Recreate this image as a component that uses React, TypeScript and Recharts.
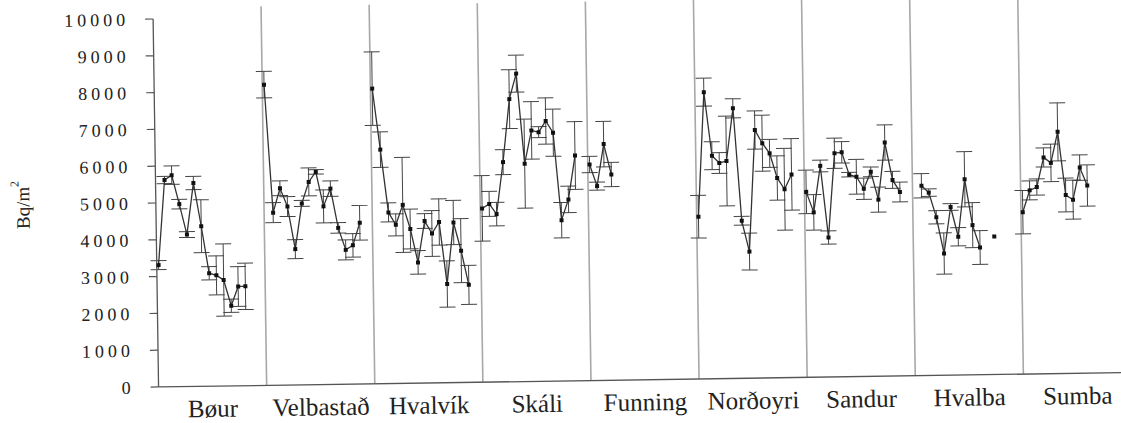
import { ComposedChart, Line, ErrorBar, XAxis, YAxis, ReferenceLine } from 'recharts';

const CATEGORIES = ['Bøur', 'Velbastað', 'Hvalvík', 'Skáli', 'Funning', 'Norðoyri', 'Sandur', 'Hvalba', 'Sumba'];

// Bq/m2 per sampling site
const bour = [3310, 5620, 5750, 4960, 4130, 5530, 4350, 3070, 3010, 2880, 2180, 2700, 2700];
const bourErr = [120, 100, 250, 130, 80, 180, 720, 180, 530, 980, 180, 540, 630];
const velbastad = [8170, 4690, 5350, 4850, 3690, 4930, 5510, 5780, 4840, 5320, 4250, 3650, 3770, 4380];
const velbastadErr = [360, 270, 200, 270, 260, 80, 380, 60, 450, 210, 140, 270, 320, 470];
const hvalvik = [8020, 6360, 4650, 4310, 4850, 4190, 3280, 4400, 4060, 4370, 2680, 4350, 3580, 2650];
const hvalvikErr = [1000, 480, 260, 300, 1290, 540, 320, 200, 620, 630, 630, 600, 870, 530];
const skali = [4720, 4840, 4560, 5970, 7680, 8370, 5920, 6820, 6770, 7070, 6750, 4370, 4930, 6120];
const skaliErr = [890, 340, 320, 340, 800, 500, 1210, 780, 150, 630, 640, 480, 360, 920];
const funning = [5870, 5280, 6420, 5590];
const funningErr = [220, 110, 620, 330];
const nordoyri = [4410, 7790, 6060, 5860, 5910, 7340, 4280, 3440, 6740, 6380, 6100, 5430, 5120, 5520];
const nordoyriErr = [580, 380, 380, 280, 1220, 260, 120, 500, 520, 760, 380, 600, 1110, 970];
const sandur = [5040, 4480, 5740, 3790, 6080, 6100, 5490, 5430, 5100, 5560, 4800, 6350, 5330, 5000];
const sandurErr = [590, 480, 160, 180, 410, 290, 60, 470, 290, 130, 340, 480, 230, 270];
const hvalba = [null, 5160, 4970, 4300, 3310, 4570, 3760, 5320, 4070, 3460, null, 3750];
const hvalbaErr = [null, 330, 100, 180, 560, 90, 250, 750, 610, 460, null, 0];
const sumba = [4400, 4990, 5080, 5880, 5730, 6570, 4850, 4720, 5590, 5100];
const sumbaErr = [590, 260, 220, 260, 510, 790, 460, 530, 345, 560];

const Y_TICKS = [0, 1000, 2000, 3000, 4000, 5000, 6000, 7000, 8000, 9000, 10000];

const FONT = '"Liberation Serif", "DejaVu Serif", serif';

const series = [
  [bour, bourErr], [velbastad, velbastadErr], [hvalvik, hvalvikErr], [skali, skaliErr],
  [funning, funningErr], [nordoyri, nordoyriErr], [sandur, sandurErr], [hvalba, hvalbaErr], [sumba, sumbaErr],
];

const SLOTS = 15; // slots per site on the x axis

const rows: any[] = [];
series.forEach(([vals, errs], g) => {
  vals.forEach((v, i) => {
    if (v == null) rows.push({ x: g * SLOTS + 0.25 + i, v: null });
    else rows.push({ x: g * SLOTS + 0.25 + i, v, err: errs[i] });
  });
  rows.push({ x: g * SLOTS + 14.9, v: null }); // break the line between sites
});

const catTicks = CATEGORIES.map((_, i) => i * SLOTS + SLOTS / 2);
const separators = CATEGORIES.slice(1).map((_, i) => (i + 1) * SLOTS);

const renderDot = (p: any) => {
  if (p.payload?.v == null || p.cy == null) return <g key={`e${p.index}`} />;
  return <rect key={`d${p.index}`} x={p.cx - 2} y={p.cy - 2} width={4} height={4} fill="#111" />;
};

const yLabel = (p: any) => {
  const vb = p.viewBox || { y: 13, height: 368 };
  const cy = vb.y + vb.height / 2;
  return (
    <text className="serif-label" x={23} y={cy} transform={`rotate(-90 23 ${cy})`} textAnchor="middle"
      dominantBaseline="central" fontSize={19} fill="#222">
      Bq/m<tspan dy={-8} fontSize={12}>2</tspan>
    </text>
  );
};

export default function App() {
  return (
    <div style={{ position: 'fixed', left: 0, top: 0, width: 1121, height: 423, overflow: 'hidden', background: '#fff' }}>
      <style>{`.chart-wrap text, .chart-wrap tspan { font-family: ${FONT} !important; }`}</style>
      <div className="chart-wrap" style={{ width: 1135, height: 423, transform: 'rotate(-0.85deg)', transformOrigin: '560px 211px' }}>
        <ComposedChart width={1135} height={423} data={rows} margin={{ top: 13, right: 6, bottom: 0, left: 0 }}>
          <XAxis
            dataKey="x"
            type="number"
            domain={[0, SLOTS * CATEGORIES.length]}
            ticks={catTicks}
            interval={0}
            tickFormatter={(v: number) => CATEGORIES[Math.round((v - SLOTS / 2) / SLOTS)]}
            tickLine={false}
            tickSize={0}
            tickMargin={13}
            height={42}
            axisLine={{ stroke: '#555', strokeWidth: 1.3 }}
            tick={{ fontSize: 25, fill: '#222' }}
          />
          <YAxis
            type="number"
            domain={[0, 10000]}
            ticks={Y_TICKS}
            interval={0}
            width={156}
            tickSize={8}
            tickMargin={16}
            axisLine={{ stroke: '#555', strokeWidth: 1.3 }}
            tickLine={{ stroke: '#555', strokeWidth: 1.2 }}
            tick={{ fontSize: 18, fill: '#222', letterSpacing: 4 }}
            label={yLabel}
          />
          {separators.map((s) => (
            <ReferenceLine
              key={s}
              segment={[{ x: s, y: 0 }, { x: s, y: 10300 }]}
              stroke="#a8a8a8"
              strokeWidth={1.6}
              ifOverflow="visible"
            />
          ))}
          <Line
            type="linear"
            dataKey="v"
            stroke="#333"
            strokeWidth={1.3}
            connectNulls={false}
            dot={renderDot}
            activeDot={false}
            isAnimationActive={false}
          >
            <ErrorBar dataKey="err" direction="y" width={8} stroke="#444" strokeWidth={1} />
          </Line>
        </ComposedChart>
      </div>
    </div>
  );
}
